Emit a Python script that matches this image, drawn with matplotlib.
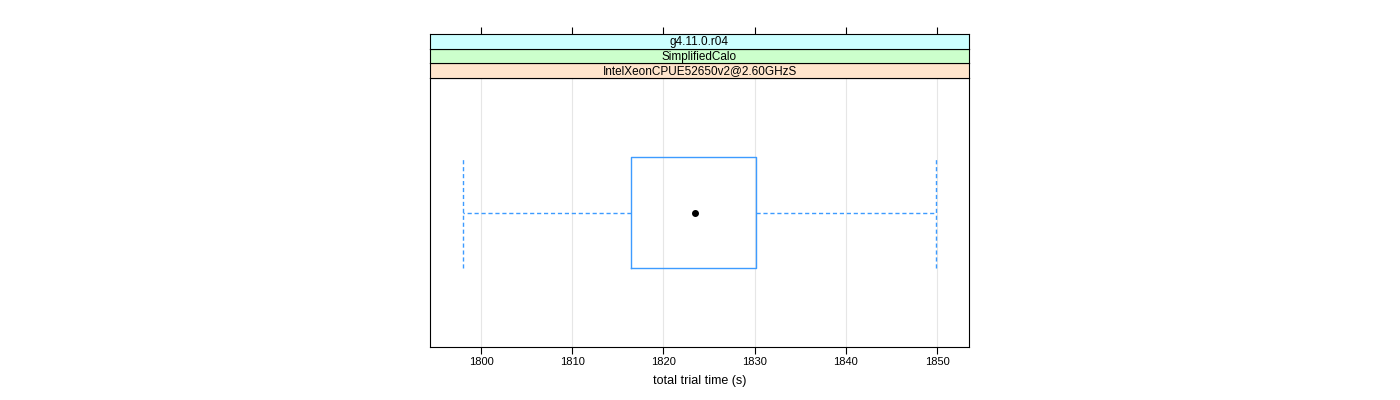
import matplotlib
matplotlib.use("Agg")
from matplotlib import pyplot as plt

# summary of the single box (seconds)
whisker_low = 1798.0
q1 = 1816.45
median = 1823.45
q3 = 1830.15
whisker_high = 1849.9

strip_labels = ["g4.11.0.r04", "SimplifiedCalo", "IntelXeonCPUE52650v2@2.60GHzS"]
strip_colors = ["#ccffff", "#ccffcc", "#ffe5cc"]
x_ticks = [1800, 1810, 1820, 1830, 1840, 1850]

plt.rcParams['font.family'] = ['Liberation Sans', 'DejaVu Sans']
blue = "#3d9bff"

fig = plt.figure(figsize=(14, 4), dpi=100)
left, width = 430 / 1400, 539 / 1400
ax = fig.add_axes([left, 1 - 347 / 400, width, 269 / 400])

stats = [{"whislo": whisker_low, "q1": q1, "med": median, "q3": q3,
          "whishi": whisker_high, "fliers": []}]
ax.bxp(stats, positions=[1], widths=0.415, capwidths=0.415,
       orientation='horizontal', showfliers=False,
       boxprops=dict(color=blue, linewidth=1),
       whiskerprops=dict(color=blue, linewidth=1, linestyle=(0, (3, 2))),
       capprops=dict(color=blue, linewidth=1, linestyle=(0, (3, 2))),
       medianprops=dict(linewidth=0))
ax.plot([median], [1], 'o', color='black', markersize=4, zorder=5)

ax.set_xlim(1794.4, 1853.5)
ax.set_ylim(0.5, 1.5)
ax.set_yticks([])
ax.set_xticks(x_ticks)
ax.set_xticklabels([str(t) for t in x_ticks], fontsize=8)
ax.tick_params(axis='x', direction='out', length=5, pad=2, width=0.8)
ax.grid(axis='x', color='#e6e6e6', linewidth=0.8)
ax.set_axisbelow(True)
for s in ax.spines.values():
    s.set_linewidth(0.8)
ax.set_xlabel("total trial time (s)", fontsize=9, labelpad=6)

# strips stacked above the panel, bottom one first
strip_h = 44 / 3 / 400
bottom = 1 - 78 / 400
for i, (label, col) in enumerate(zip(reversed(strip_labels), reversed(strip_colors))):
    sax = fig.add_axes([left, bottom + i * strip_h, width, strip_h], sharex=ax)
    sax.set_facecolor(col)
    sax.set_yticks([])
    sax.text(0.5, 0.45, label, transform=sax.transAxes, ha='center', va='center', fontsize=8.5)
    for s in sax.spines.values():
        s.set_linewidth(0.8)
    if i == 2:
        sax.tick_params(axis='x', bottom=False, labelbottom=False, top=True,
                        labeltop=False, direction='out', length=5, width=0.8)
    else:
        sax.tick_params(axis='x', bottom=False, labelbottom=False)

fig.savefig("out.png", dpi=100)
